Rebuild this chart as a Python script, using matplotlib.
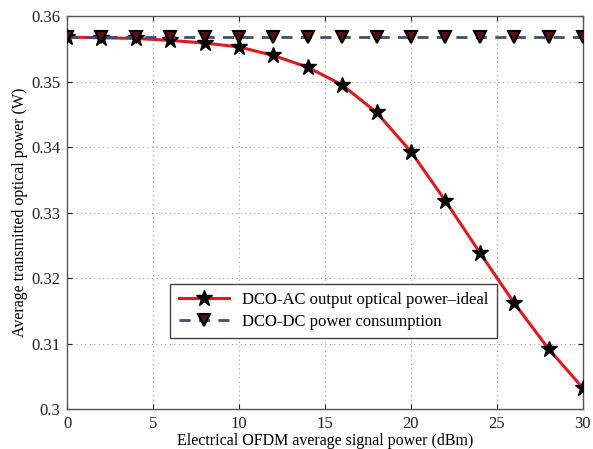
import matplotlib
matplotlib.use("Agg")
import matplotlib.pyplot as plt

x_dbm = [0, 2, 4, 6, 8, 10, 12, 14, 16, 18, 20, 22, 24, 26, 28, 30]
ac_power = [0.3568, 0.3567, 0.3566, 0.3563, 0.3559, 0.3553, 0.3540, 0.3522,
            0.3495, 0.3453, 0.3393, 0.3318, 0.3239, 0.3162, 0.3092, 0.3032]
dc_power = [0.3568] * len(x_dbm)
xticks = [0, 5, 10, 15, 20, 25, 30]
yticks = [0.30, 0.31, 0.32, 0.33, 0.34, 0.35, 0.36]
ytick_labels = ["0.3", "0.31", "0.32", "0.33", "0.34", "0.35", "0.36"]

plt.rcParams['font.family'] = ['Liberation Serif', 'DejaVu Serif']

fig = plt.figure(figsize=(5.93, 4.49), dpi=100)
ax = fig.add_axes([0.113, 0.089, 0.870, 0.875])

ax.plot(x_dbm, ac_power, color='#e8161b', lw=2.2, marker='*', ms=12,
        mfc='black', mec='black', label='DCO-AC output optical power\u2013ideal', zorder=3)
ax.plot(x_dbm, dc_power, color='#3f5070', lw=2.0, ls=(0, (4, 3)), marker='v', ms=8,
        mfc='#5a1010', mec='black', mew=1.5, label='DCO-DC power consumption', zorder=4)

ax.set_xlim(0, 30)
ax.set_ylim(0.30, 0.36)
ax.set_xticks(xticks)
ax.set_yticks(yticks)
ax.set_yticklabels(ytick_labels)
ax.grid(True, ls=(0, (1, 3)), color='#999999', lw=0.8)
ax.tick_params(direction='in', top=True, right=True, labelsize=12, colors='#222222', pad=5)
for s in ax.spines.values():
    s.set_color('#555555')
    s.set_linewidth(1.0)

ax.set_xlabel('Electrical OFDM average signal power (dBm)', fontsize=11.5, labelpad=1)
ax.set_ylabel('Average transmitted optical power (W)', fontsize=11.5, labelpad=2)

leg = ax.legend(loc='lower left', bbox_to_anchor=(0.2, 0.18), borderaxespad=0,
                fontsize=12, fancybox=False, edgecolor='#444444', framealpha=1,
                handlelength=3.0, borderpad=0.5, labelspacing=0.35)
leg.get_frame().set_linewidth(1.0)

fig.savefig('out.png', dpi=100)
